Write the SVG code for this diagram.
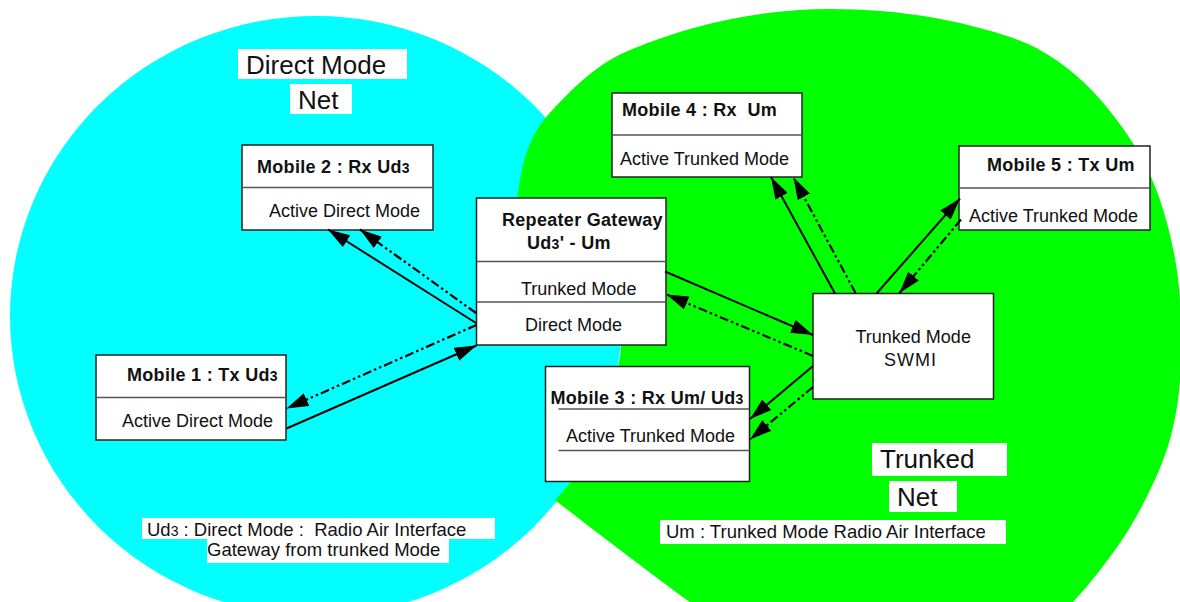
<svg xmlns="http://www.w3.org/2000/svg" width="1180" height="602" viewBox="0 0 1180 602">
<defs>
<style>
.box{fill:#fff;stroke:#222;stroke-width:1.5}
.div{stroke:#555;stroke-width:1.5;fill:none}
.lbl{fill:#fff;stroke:none}
.t{font-family:"Liberation Sans",Arial,sans-serif;font-size:18px;fill:#111}
.bt{font-family:"Liberation Sans",Arial,sans-serif;font-size:18.5px;fill:#111}
.b{font-family:"Liberation Sans",Arial,sans-serif;font-size:18px;font-weight:bold;fill:#111;letter-spacing:0.3px}
.big{font-family:"Liberation Sans",Arial,sans-serif;font-size:26px;fill:#111}
.sm{font-size:14px}
.solid{stroke:#000;stroke-width:2;fill:none;marker-end:url(#ah)}
.dd{stroke:#000;stroke-width:2.2;fill:none;stroke-dasharray:9 3 2.5 3 2.5 3;marker-end:url(#ah)}
</style>
<marker id="ah" viewBox="0 0 22 14" markerWidth="22" markerHeight="14" refX="22" refY="7" orient="auto" markerUnits="userSpaceOnUse">
<path d="M0,0 L22,7 L0,14 z" fill="#000"/>
</marker>
</defs>
<rect x="0" y="0" width="1180" height="602" fill="#fff"/>
<g id="direct-net-area">
<ellipse cx="316" cy="316" rx="306" ry="300" fill="#00ffff"/>
</g>
<g id="trunked-net-area">
<path d="M517,200 C522,160 530,135 548,115 C575,85 600,62 630,50 C690,25 760,9 830,9 C900,9 960,20 1013,38 C1053,52 1088,82 1113,115 C1135,143 1150,170 1160,200 C1170,230 1178,265 1180,300 C1182,335 1182,370 1178,400 C1173,435 1165,460 1150,490 C1137,518 1120,545 1100,570 C1090,583 1080,595 1065,610 L1040,660 L700,660 L690,602 C670,588 600,535 555,500 C578,478 598,440 606,410 C615,380 621,360 621,345 L621,300 L530,240 Z" fill="#00ff00"/>
</g>
<g id="labels">
<rect class="lbl" x="238" y="49" width="169" height="30"/>
<text class="big" x="246" y="74">Direct Mode</text>
<rect class="lbl" x="290" y="84" width="62" height="30"/>
<text class="big" x="298" y="109">Net</text>
<rect class="lbl" x="872" y="443" width="135" height="33"/>
<text class="big" x="880" y="468">Trunked</text>
<rect class="lbl" x="889" y="481" width="68" height="31"/>
<text class="big" x="897" y="506">Net</text>
<rect class="lbl" x="660" y="520" width="346" height="24"/>
<text class="bt" x="666" y="538">Um : Trunked Mode Radio Air Interface</text>
<rect class="lbl" x="142" y="518" width="353" height="21"/>
<text class="bt" x="147" y="536" xml:space="preserve">Ud<tspan class="sm">3</tspan> : Direct Mode :  Radio Air Interface</text>
<rect class="lbl" x="207" y="539" width="242" height="24"/>
<text class="bt" x="207" y="556">Gateway from trunked Mode</text>
</g>
<g id="mobile2">
<rect class="box" x="242" y="145" width="191" height="85"/>
<line class="div" x1="242" y1="187.5" x2="433" y2="187.5"/>
<text class="b" x="257" y="173">Mobile 2 : Rx Ud<tspan class="sm">3</tspan></text>
<text class="t" x="269" y="217">Active Direct Mode</text>
</g>
<g id="mobile1">
<rect class="box" x="96" y="355" width="190" height="85"/>
<line class="div" x1="96" y1="397.5" x2="286" y2="397.5"/>
<text class="b" x="127" y="381">Mobile 1 : Tx Ud<tspan class="sm">3</tspan></text>
<text class="t" x="122" y="427">Active Direct Mode</text>
</g>
<g id="repeater-gateway">
<rect class="box" x="476.5" y="198" width="189.5" height="147"/>
<line class="div" x1="476.5" y1="261.5" x2="666" y2="261.5"/>
<line class="div" x1="476.5" y1="302" x2="666" y2="302"/>
<text class="b" x="502" y="226">Repeater Gateway</text>
<text class="b" x="527" y="249">Ud<tspan class="sm">3</tspan>' - Um</text>
<text class="t" x="521" y="295">Trunked Mode</text>
<text class="t" x="525" y="331">Direct Mode</text>
</g>
<g id="mobile3">
<rect class="box" x="545.5" y="366.5" width="204" height="115"/>
<line class="div" x1="558.5" y1="409" x2="749.5" y2="409"/>
<line class="div" x1="558.5" y1="450.5" x2="749.5" y2="450.5"/>
<text class="b" x="550.5" y="404">Mobile 3 : Rx Um/ Ud<tspan class="sm">3</tspan></text>
<text class="t" x="566" y="442">Active Trunked Mode</text>
</g>
<g id="mobile4">
<rect class="box" x="612" y="93" width="190" height="84"/>
<line class="div" x1="612" y1="135" x2="802" y2="135"/>
<text class="b" x="622" y="116" xml:space="preserve">Mobile 4 : Rx  Um</text>
<text class="t" x="620" y="165">Active Trunked Mode</text>
</g>
<g id="mobile5">
<rect class="box" x="959" y="146" width="191" height="84"/>
<line class="div" x1="959" y1="188" x2="1150" y2="188"/>
<text class="b" x="987" y="171">Mobile 5 : Tx Um</text>
<text class="t" x="969" y="222">Active Trunked Mode</text>
</g>
<g id="swmi">
<rect class="box" x="813" y="293.5" width="180.5" height="105.5"/>
<text class="t" x="855.5" y="343">Trunked Mode</text>
<text class="t" x="884" y="366" letter-spacing="1">SWMI</text>
</g>
<g id="connectors">
<line class="solid" x1="476" y1="323" x2="328" y2="229.5"/>
<line class="dd" x1="476" y1="313" x2="360" y2="229.5"/>
<line class="dd" x1="476.5" y1="325" x2="286.5" y2="408.5"/>
<line class="solid" x1="286.5" y1="428.5" x2="476.5" y2="345.5"/>
<line class="solid" x1="665" y1="271.5" x2="813" y2="335"/>
<line class="dd" x1="813" y1="356" x2="666.5" y2="294.5"/>
<line class="solid" x1="813" y1="366" x2="750" y2="419"/>
<line class="dd" x1="813" y1="387" x2="750" y2="439.5"/>
<line class="solid" x1="835" y1="293.5" x2="771" y2="177"/>
<line class="dd" x1="855.5" y1="293" x2="793.5" y2="177.5"/>
<line class="solid" x1="876.5" y1="293.5" x2="960" y2="198.5"/>
<line class="dd" x1="961" y1="219.5" x2="899.5" y2="293"/>
</g>
</svg>
